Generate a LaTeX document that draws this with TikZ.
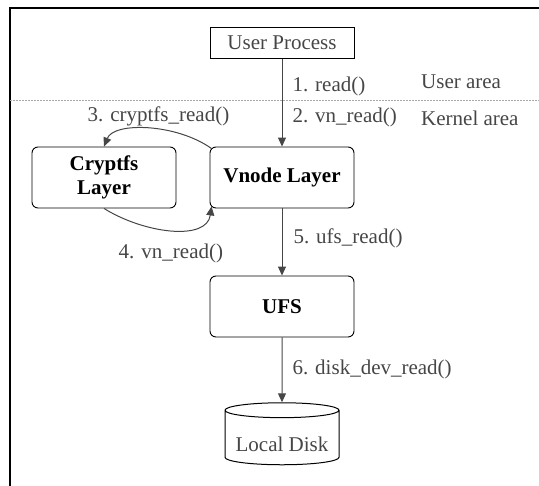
\documentclass[tikz,border=0pt]{standalone}
\usepackage{fontspec}
\setmainfont{Liberation Serif}
\usetikzlibrary{shapes.geometric, arrows.meta, positioning}
\definecolor{vfsgray}{RGB}{70,70,70}
\definecolor{vfsdash}{RGB}{170,170,170}

\begin{document}
\begin{tikzpicture}[x=1pt, y=-1pt,
  every node/.style = {font=\fontsize{21}{25}\selectfont, text=vfsgray},
  ent/.style = {
    rectangle, rounded corners=6pt, draw, line width=0.9pt,
    minimum width=144pt, minimum height=61pt,
    align=center, font=\fontsize{21}{24}\selectfont\bfseries, text=black
  },
  proc/.style = {rectangle, draw, line width=0.9pt,
    minimum width=144pt, minimum height=31pt},
  store/.style = {cylinder, shape border rotate=90, draw=black, line width=1pt,
    aspect=0.15, minimum width=114pt, minimum height=62pt,
    text height=28pt, text depth=2pt},
  arr/.style = {-{Triangle[length=9pt, width=8pt]}, line width=1pt, draw=vfsgray},
  lbl/.style = {inner sep=0pt}
]
\useasboundingbox (0,0) rectangle (539,486);

%% ── frame and user/kernel boundary ───────────────────────────────────────
\draw[line width=1.3pt] (10,486) -- (10,8) -- (539,8);
\coordinate (bndl) at (10,100);
\coordinate (bndr) at (539,100);
\draw[vfsdash, line width=0.8pt, dash pattern=on 2pt off 1pt] (bndl) -- (bndr);

\node[lbl, anchor=west] (uarea) at (421,82)  {User area};
\node[lbl, anchor=west] (karea) at (421,118) {Kernel area};

%% ── nodes ────────────────────────────────────────────────────────────────
\node[proc]  (user)  at (282,43)    {User Process};
\node[ent]   (vnode) at (282,177.5) {Vnode Layer};
\node[ent]   (crypt) at (104,177.5) {Cryptfs\\Layer};
\node[ent]   (ufs)   at (282,306.5) {UFS};
\node[store] (disk)  at (282,439)   {Local Disk};

%% ── main call chain ──────────────────────────────────────────────────────
\draw[arr] (user) -- node[lbl, right=10pt, pos=0.31]{1. read()}
                     node[lbl, right=10pt, pos=0.67]{2. vn\_read()} (vnode);
\draw[arr] (vnode) -- node[lbl, right=11pt, pos=0.44]{5. ufs\_read()} (ufs);
\draw[arr] (ufs) -- node[lbl, right=10pt, pos=0.50]{6. disk\_dev\_read()} (disk);

%% ── detour through the cryptfs layer ─────────────────────────────────────
\draw[arr] ([xshift=2pt, yshift=-2pt]vnode.north west)
  .. controls +(-35,-25) and +(10,-25) ..
  node[lbl, above=2pt, xshift=10pt]{3. cryptfs\_read()} (crypt.north);
\draw[arr] (crypt.south)
  .. controls +(40,25) and +(-5,35) ..
  node[lbl, below=13pt]{4. vn\_read()} ([xshift=2pt, yshift=2pt]vnode.south west);

\end{tikzpicture}
\end{document}
